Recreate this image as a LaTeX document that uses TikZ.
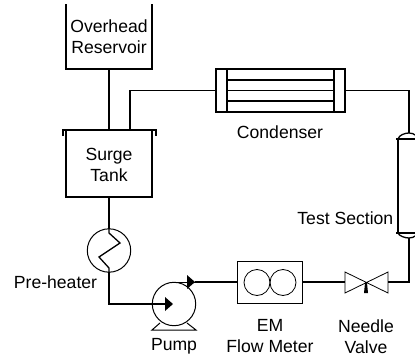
\documentclass[tikz,border=0pt]{standalone}
\usepackage{fontspec}
\setmainfont{Liberation Sans}
\begin{document}
\begin{tikzpicture}[x=1pt,y=-1pt,
  lbl/.style={font=\fontsize{17.6pt}{21pt}\selectfont,align=center,text=black,inner sep=0pt},
  pipe/.style={line width=1.3pt},
  thin part/.style={line width=1pt},
  hair/.style={line width=0.8pt}]
\useasboundingbox (0,0) rectangle (415,356);
% reservoir
\draw[pipe] (66,4) -- (66,69) -- (152,69) -- (152,4);
\node[lbl] (res) at (109,36.5) {Overhead\\Reservoir};
% surge tank
\draw[pipe] (63,136) -- (63,130) -- (156,130) -- (156,136);
\draw[pipe] (66,130) -- (66,197) -- (152,197) -- (152,130);
\node[lbl] (tank) at (109,164.5) {Surge\\Tank};
\coordinate (resb) at (109,69);
\coordinate (tankt) at (109,130);
\draw[pipe] (resb) -- (tankt);
% condenser
\draw[pipe] (216,69) rectangle (227,112);
\draw[pipe] (227,69) -- (334,69);
\draw[pipe] (227,80) -- (334,80);
\draw[pipe] (227,90.5) -- (334,90.5);
\draw[pipe] (227,101) -- (334,101);
\draw[pipe] (227,112) -- (334,112);
\draw[pipe] (334,69) rectangle (345,112);
\coordinate (tankt2) at (130,130);
\draw[pipe] (tankt2) -- (130,90.5) -- (216,90.5);
\draw[pipe] (345,90.5) -- (409,90.5) -- (409,133);
\node[lbl] (cond) at (280,132) {Condenser};
% test section
\draw[pipe] (398,139) -- (398,233);
\draw[pipe] (396,139) -- (415,139);
\draw[pipe] (396,233) -- (415,233);
\draw[pipe] (398,139) .. controls (399,135) and (405,133) .. (409,133) .. controls (412,133) and (414,134) .. (415,135);
\draw[pipe] (398,233) .. controls (399,236) and (405,238) .. (409,238) .. controls (412,238) and (414,237) .. (415,236);
\node[lbl,anchor=east] (ts) at (393.5,218) {Test Section};
% preheater
\draw[thin part] (109,250.5) circle (21.7);
\draw[pipe] (109,197) -- (109,229);
\draw[pipe] (109,229) -- (109,233) -- (120,243) -- (99,257) -- (109,268) -- (109,272);
\draw[pipe] (109,272) -- (109,304) -- (152,304);
\node[lbl] (pre) at (55.5,282) {Pre-heater};
% pump
\draw[thin part] (174,304) circle (21.7);
\draw[pipe] (152,304) -- (166,304);
\fill (165,297) -- (173,304) -- (165,311) -- cycle;
\draw[thin part] (174,282) -- (195,282);
\fill (187,275) -- (195,282) -- (187,289) -- cycle;
\draw[thin part] (160,323) -- (152,330) -- (196,330) -- (187,323);
\node[lbl] (pump) at (174,346) {Pump};
% meter
\draw[thin part] (237,261) rectangle (302,303.5);
\draw[hair] (257,282.5) circle (13);
\draw[hair] (283,282.5) circle (13);
\node[lbl] (em) at (270,336.5) {EM\\Flow Meter};
\draw[pipe] (195,282) -- (237,282);
\draw[pipe] (302,282) -- (345,282);
% valve
\draw[hair] (345,272) -- (388,293) -- (388,272) -- (345,293) -- cycle;
\fill (364,293) -- (368,293) -- (367,283) -- (365,283) -- cycle;
\draw[pipe] (388,282) -- (409,282) -- (409,238);
\node[lbl] (nv) at (366,336.5) {Needle\\Valve};
\end{tikzpicture}
\end{document}
